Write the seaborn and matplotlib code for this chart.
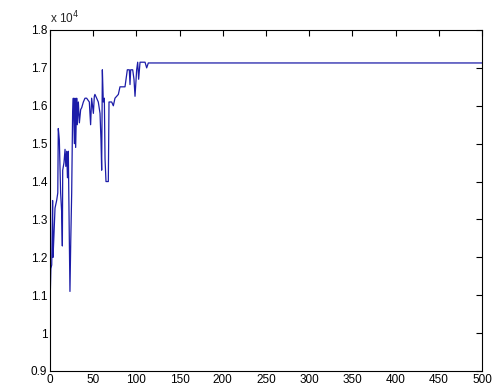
import matplotlib
matplotlib.use("Agg")
import matplotlib.pyplot as plt
import seaborn as sns
import pandas as pd

# breakpoints of the trace (iteration, value in units of 1e4)
iters = [0, 1, 2, 3, 3.5, 4.6, 5.8, 7.7, 9.0, 9.6, 10.8, 12.3, 13.5, 14.3, 14.7,
         16.2, 17.4, 18.3, 19.3, 20.2, 21.2, 22.4, 23.1, 24.0, 25.1, 26.2, 27.0,
         28.2, 28.9, 29.7, 30.9, 31.6, 32.8, 34.0, 35.5, 36.7, 38.6, 40.5, 42.4,
         45.5, 47.0, 48.2, 50.2, 51.3, 52.0, 54.0, 55.9, 57.9, 59.0, 59.8, 60.6,
         61.7, 62.9, 63.7, 64.8, 67.5, 68.3, 71.4, 73.3, 75.2, 79.1, 81.0, 86.8,
         89.5, 91.8, 92.6, 93.4, 95.7, 97.2, 98.4, 100.3, 101.5, 102.6, 104.2,
         106.0, 110.0, 111.9, 113.8, 500]
values = [1.07, 1.17, 1.18, 1.35, 1.20, 1.26, 1.33, 1.35, 1.37, 1.54, 1.51,
          1.37, 1.32, 1.23, 1.43, 1.45, 1.485, 1.44, 1.48, 1.41, 1.48, 1.24,
          1.11, 1.24, 1.37, 1.585, 1.62, 1.50, 1.62, 1.49, 1.62, 1.55, 1.61,
          1.555, 1.59, 1.595, 1.61, 1.62, 1.62, 1.61, 1.55, 1.62, 1.58, 1.625,
          1.63, 1.62, 1.61, 1.58, 1.51, 1.43, 1.695, 1.61, 1.62, 1.46, 1.40,
          1.40, 1.61, 1.61, 1.60, 1.62, 1.63, 1.65, 1.65, 1.695, 1.695, 1.656,
          1.695, 1.695, 1.67, 1.625, 1.695, 1.715, 1.67, 1.715, 1.715, 1.715,
          1.70, 1.713, 1.713]

df = pd.DataFrame({"iter": iters, "value": values})

sns.set_style("white")
plt.rcParams["font.family"] = ["Liberation Sans", "DejaVu Sans"]

fig = plt.figure(figsize=(4.93, 3.89), dpi=100)
ax = fig.add_axes([50 / 493, 18 / 389, 432 / 493, 341 / 389])

sns.lineplot(data=df, x="iter", y="value", ax=ax, sort=False, estimator=None,
             color="#1c1ca8", linewidth=0.9)

ax.set_xlim(0, 500)
ax.set_ylim(0.9, 1.8)
ax.set_xticks(range(0, 501, 50))
ax.set_yticks([0.9, 1.0, 1.1, 1.2, 1.3, 1.4, 1.5, 1.6, 1.7, 1.8])
ax.set_yticklabels(["0.9", "1", "1.1", "1.2", "1.3", "1.4", "1.5", "1.6", "1.7", "1.8"])
ax.set_xlabel("")
ax.set_ylabel("")
ax.tick_params(direction="in", top=True, right=True, length=4, width=0.8,
               labelsize=8.5, colors="black", pad=2)
for s in ax.spines.values():
    s.set_color("black")
    s.set_linewidth(0.8)

ax.text(0.0, 1.012, r"x 10$^4$", transform=ax.transAxes, fontsize=8.5,
        ha="left", va="bottom")

fig.savefig("out.png", dpi=100)
